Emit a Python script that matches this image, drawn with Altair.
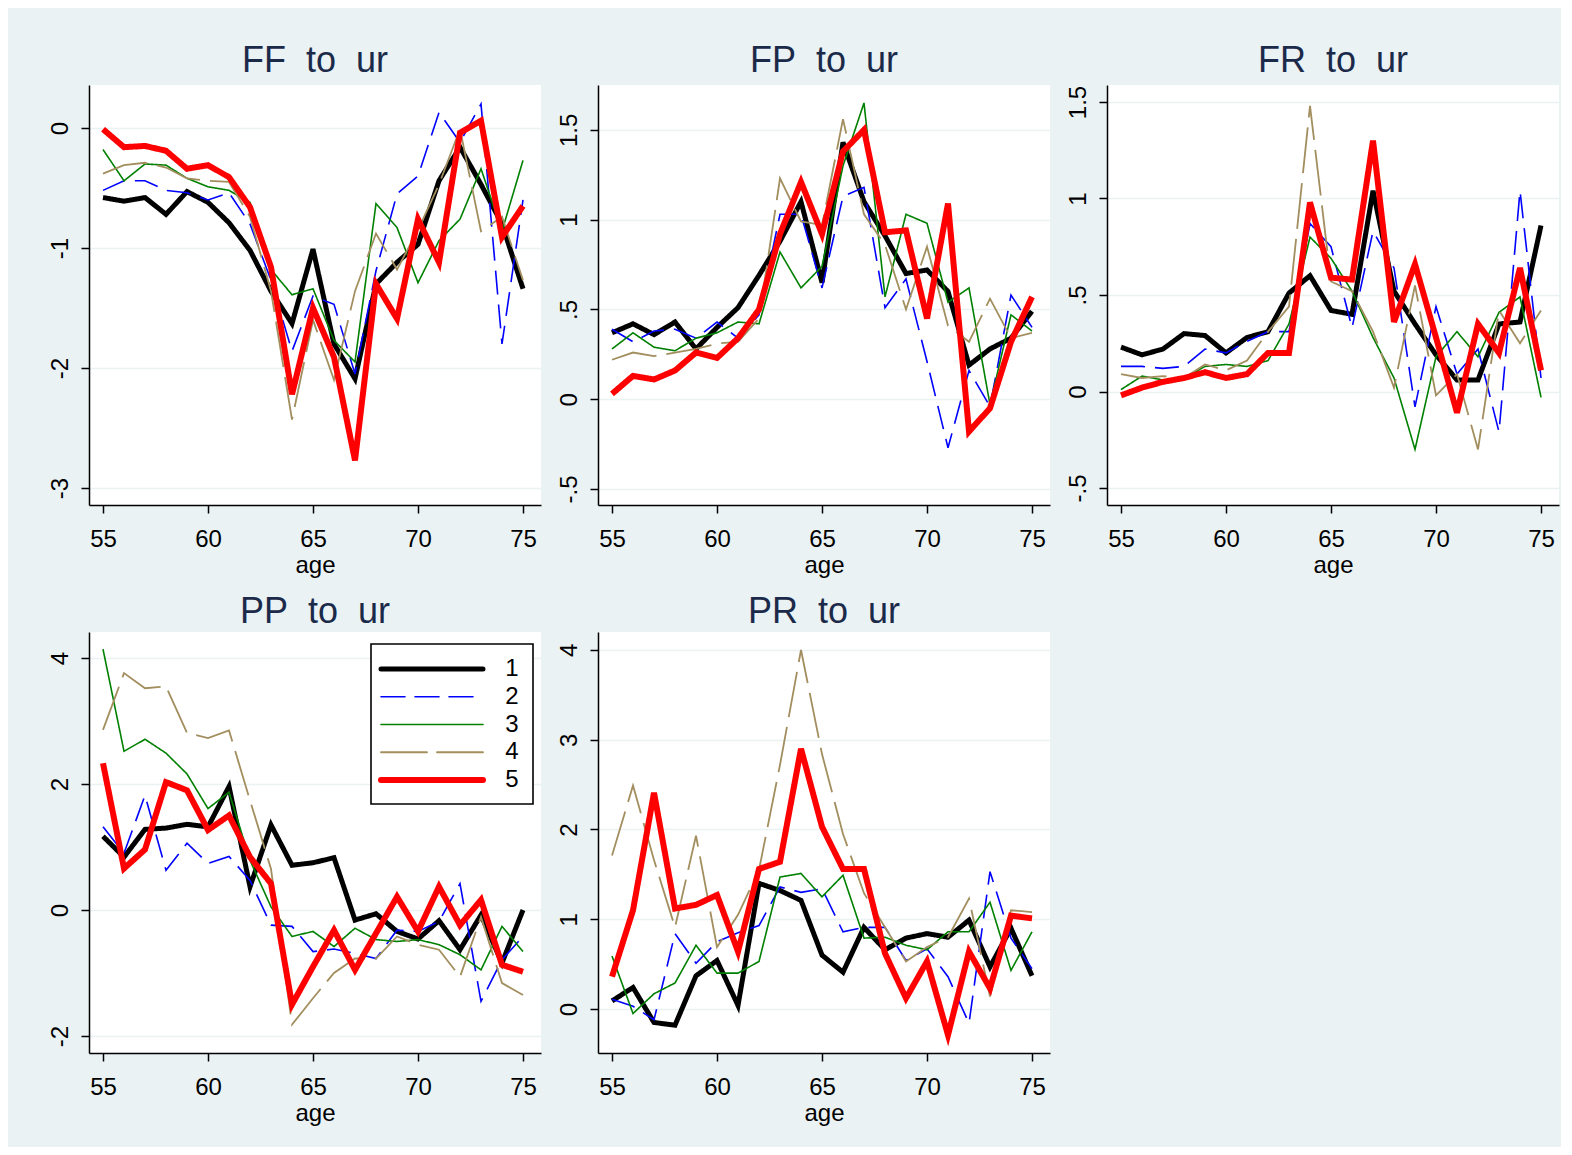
import altair as alt
import pandas as pd

ages = list(range(55, 76))
groups = ["1", "2", "3", "4", "5"]

FF_1 = [-0.58, -0.61, -0.58, -0.72, -0.53, -0.62, -0.79, -1.02, -1.36, -1.63, -1.01, -1.80, -2.09, -1.30, -1.12, -0.97, -0.44, -0.16, -0.47, -0.80, -1.34]
FF_2 = [-0.52, -0.44, -0.44, -0.52, -0.54, -0.60, -0.54, -0.80, -1.27, -1.86, -1.40, -1.47, -2.05, -1.19, -0.55, -0.40, 0.13, -0.12, 0.20, -1.80, -0.60]
FF_3 = [-0.18, -0.44, -0.30, -0.31, -0.42, -0.49, -0.52, -0.62, -1.18, -1.39, -1.34, -1.77, -1.95, -0.63, -0.83, -1.29, -0.94, -0.76, -0.34, -0.86, -0.27]
FF_4 = [-0.38, -0.31, -0.29, -0.33, -0.42, -0.44, -0.45, -0.74, -1.36, -2.43, -1.60, -2.10, -1.36, -0.88, -1.18, -0.85, -0.47, -0.01, -0.86, -0.74, -1.27]
FF_5 = [-0.01, -0.16, -0.15, -0.19, -0.34, -0.31, -0.41, -0.66, -1.16, -2.22, -1.50, -1.91, -2.77, -1.30, -1.59, -0.76, -1.12, -0.04, 0.06, -0.91, -0.65]

FP_1 = [0.37, 0.42, 0.36, 0.43, 0.28, 0.40, 0.51, 0.69, 0.88, 1.10, 0.65, 1.43, 1.10, 0.91, 0.70, 0.72, 0.60, 0.19, 0.28, 0.34, 0.49]
FP_2 = [0.39, 0.32, 0.38, 0.39, 0.34, 0.43, 0.34, 0.47, 1.03, 1.03, 0.62, 1.13, 1.18, 0.51, 0.67, 0.21, -0.27, 0.16, -0.04, 0.58, 0.40]
FP_3 = [0.28, 0.37, 0.29, 0.27, 0.34, 0.37, 0.43, 0.42, 0.82, 0.62, 0.74, 1.30, 1.65, 0.57, 1.03, 0.98, 0.54, 0.62, -0.03, 0.47, 0.38]
FP_4 = [0.22, 0.26, 0.24, 0.26, 0.28, 0.31, 0.32, 0.45, 1.23, 0.99, 0.97, 1.56, 1.03, 0.86, 0.50, 0.85, 0.41, 0.32, 0.56, 0.34, 0.37]
FP_5 = [0.03, 0.13, 0.11, 0.16, 0.26, 0.23, 0.34, 0.50, 0.92, 1.21, 0.92, 1.38, 1.50, 0.93, 0.94, 0.45, 1.09, -0.18, -0.05, 0.32, 0.57]

FR_1 = [0.23, 0.19, 0.22, 0.30, 0.29, 0.20, 0.28, 0.31, 0.51, 0.60, 0.42, 0.40, 1.04, 0.52, 0.35, 0.19, 0.06, 0.06, 0.35, 0.36, 0.86]
FR_2 = [0.13, 0.13, 0.12, 0.13, 0.22, 0.20, 0.26, 0.31, 0.31, 0.87, 0.75, 0.33, 0.83, 0.64, -0.08, 0.44, 0.09, 0.22, -0.21, 1.04, 0.07]
FR_3 = [0.01, 0.08, 0.06, 0.07, 0.13, 0.14, 0.13, 0.16, 0.35, 0.80, 0.69, 0.52, 0.28, 0.07, -0.30, 0.18, 0.31, 0.18, 0.41, 0.49, -0.03]
FR_4 = [0.09, 0.07, 0.08, 0.07, 0.14, 0.11, 0.16, 0.31, 0.44, 1.48, 0.57, 0.52, 0.31, 0.02, 0.55, -0.02, 0.09, -0.30, 0.42, 0.25, 0.42]
FR_5 = [-0.02, 0.02, 0.05, 0.07, 0.10, 0.07, 0.09, 0.20, 0.20, 0.98, 0.59, 0.58, 1.30, 0.36, 0.66, 0.28, -0.11, 0.35, 0.20, 0.64, 0.11]

PP_1 = [1.17, 0.84, 1.28, 1.30, 1.36, 1.32, 1.96, 0.37, 1.35, 0.71, 0.75, 0.83, -0.16, -0.06, -0.34, -0.46, -0.17, -0.63, -0.08, -0.84, 0.00]
PP_2 = [1.32, 0.90, 1.82, 0.63, 1.06, 0.74, 0.85, 0.47, -0.24, -0.26, -0.66, -0.62, -0.69, -0.77, -0.32, -0.34, -0.18, 0.42, -1.45, -0.79, -0.42]
PP_3 = [4.14, 2.52, 2.71, 2.49, 2.16, 1.61, 1.87, 0.79, 0.05, -0.42, -0.34, -0.58, -0.29, -0.47, -0.50, -0.47, -0.55, -0.71, -0.95, -0.26, -0.66]
PP_4 = [2.86, 3.76, 3.52, 3.55, 2.81, 2.73, 2.85, 1.74, 0.65, -1.82, -1.40, -1.00, -0.77, -0.77, -0.42, -0.55, -0.63, -1.06, -0.11, -1.16, -1.35]
PP_5 = [2.33, 0.66, 0.96, 2.03, 1.90, 1.27, 1.50, 0.84, 0.42, -1.50, -0.90, -0.32, -0.95, -0.37, 0.21, -0.34, 0.37, -0.24, 0.16, -0.87, -0.98]

PR_1 = [0.09, 0.24, -0.15, -0.18, 0.37, 0.54, 0.04, 1.40, 1.32, 1.21, 0.60, 0.41, 0.91, 0.66, 0.79, 0.84, 0.80, 0.99, 0.47, 0.90, 0.37]
PR_2 = [0.11, 0.03, -0.12, 0.84, 0.51, 0.75, 0.85, 0.93, 1.36, 1.30, 1.34, 0.86, 0.91, 0.91, 0.54, 0.67, 0.36, -0.16, 1.53, 0.79, 0.45]
PR_3 = [0.59, -0.05, 0.17, 0.29, 0.71, 0.40, 0.40, 0.53, 1.47, 1.51, 1.25, 1.49, 0.79, 0.80, 0.71, 0.66, 0.86, 0.86, 1.19, 0.43, 0.86]
PR_4 = [1.71, 2.49, 1.66, 0.91, 1.93, 0.69, 1.05, 1.55, 2.72, 4.00, 2.84, 1.95, 1.29, 0.91, 0.53, 0.69, 0.80, 1.23, 0.14, 1.10, 1.08]
PR_5 = [0.36, 1.10, 2.41, 1.12, 1.16, 1.27, 0.64, 1.56, 1.64, 2.90, 2.03, 1.56, 1.56, 0.62, 0.12, 0.53, -0.29, 0.64, 0.23, 1.04, 1.01]

colors = ["#000000", "#0000FF", "#008000", "#A28E5E", "#FF0000"]
dashes = [[1, 0], [24, 10], [1, 0], [46, 10], [1, 0]]
widths = [5, 1.6, 1.6, 1.8, 6]

FONT = "Liberation Sans"
BG = "#EAF2F3"

color_enc = alt.Color("group:N", scale=alt.Scale(domain=groups, range=colors), legend=None)
dash_enc = alt.StrokeDash("group:N", scale=alt.Scale(domain=groups, range=dashes), legend=None)
width_enc = alt.StrokeWidth("group:N", scale=alt.Scale(type="ordinal", domain=groups, range=widths), legend=None)


def long_df(series_list):
    rows = []
    for g, vals in zip(groups, series_list):
        for a, v in zip(ages, vals):
            rows.append({"group": g, "age": a, "value": v})
    return pd.DataFrame(rows)


def lines(series_list, ydom, yvals):
    df = long_df(series_list)
    return alt.Chart(df).mark_line(clip=True).encode(
        x=alt.X("age:Q", scale=alt.Scale(domain=[54.333, 75.857], nice=False, zero=False),
                axis=alt.Axis(values=[55, 60, 65, 70, 75], title="age", grid=False)),
        y=alt.Y("value:Q", scale=alt.Scale(domain=ydom, nice=False, zero=False),
                axis=alt.Axis(values=yvals, title=None, grid=True,
                              labelExpr="replace(toString(datum.value), '0.', '.')")),
        color=color_enc, strokeDash=dash_enc, strokeWidth=width_enc,
    )


def title(text, off):
    return alt.TitleParams(text=text, fontSize=36, font=FONT, color="#1C2A4A",
                           fontWeight="normal", anchor="middle", baseline="alphabetic", offset=off)


def panel(name, series_list, ydom, yvals, h, off):
    return lines(series_list, ydom, yvals).properties(width=452, height=h, title=title(name, off))


# legend (inside the PP panel)
leg_df = pd.DataFrame({"group": groups})
leg_y = alt.Y("group:N", scale=alt.Scale(type="point", padding=0, domain=groups, range=[37, 148]), axis=None)
leg_box = alt.Chart(pd.DataFrame({"k": [0]})).mark_rect(
    fill="white", stroke="black", strokeWidth=1.6
).encode(x=alt.value(282), x2=alt.value(444), y=alt.value(12), y2=alt.value(172))
leg_rules = alt.Chart(leg_df).mark_rule(strokeCap="round").encode(
    x=alt.value(292), x2=alt.value(394), y=leg_y,
    color=color_enc, strokeDash=dash_enc, strokeWidth=width_enc,
)
leg_text = alt.Chart(leg_df).mark_text(
    font=FONT, fontSize=24, align="center", baseline="middle", color="black"
).encode(x=alt.value(423), y=leg_y, text="group:N")

ff = panel("FF\u00a0 to\u00a0 ur", [FF_1, FF_2, FF_3, FF_4, FF_5], [-3.142, 0.358], [-3, -2, -1, 0], 420, -23)
fp = panel("FP\u00a0 to\u00a0 ur", [FP_1, FP_2, FP_3, FP_4, FP_5], [-0.589, 1.75], [-0.5, 0, 0.5, 1, 1.5], 420, -23)
fr = panel("FR\u00a0 to\u00a0 ur", [FR_1, FR_2, FR_3, FR_4, FR_5], [-0.588, 1.588], [-0.5, 0, 0.5, 1, 1.5], 420, -23)
pp = alt.layer(
    lines([PP_1, PP_2, PP_3, PP_4, PP_5], [-2.27, 4.413], [-2, 0, 2, 4]),
    leg_box, leg_rules, leg_text,
).resolve_scale(y="independent").properties(width=452, height=421, title=title("PP\u00a0 to\u00a0 ur", -27))
pr = panel("PR\u00a0 to\u00a0 ur", [PR_1, PR_2, PR_3, PR_4, PR_5], [-0.49, 4.2], [0, 1, 2, 3, 4], 421, -27)

chart = alt.concat(
    ff, fp, fr, pp, pr, columns=3, spacing={"row": 127, "column": 57}, bounds="flush"
).properties(
    background=BG,
    padding={"left": 40, "top": 35, "right": 2, "bottom": 22},
).configure_view(
    fill="white", strokeWidth=0
).configure_axis(
    domainColor="black", domainWidth=1.5, tickColor="black", tickWidth=1.5, tickSize=8,
    labelFont=FONT, labelFontSize=24, labelColor="black", labelFlush=False, labelOverlap=False,
    titleFont=FONT, titleFontSize=24, titleFontWeight="normal", titleColor="black",
    gridColor=BG, gridWidth=1.5,
).configure_axisX(
    labelPadding=14, titlePadding=2,
).configure_axisY(
    labelAngle=270, labelAlign="center", labelBaseline="bottom", labelPadding=9,
)

chart.save("out.html", embed_options={"renderer": "svg", "actions": False})
